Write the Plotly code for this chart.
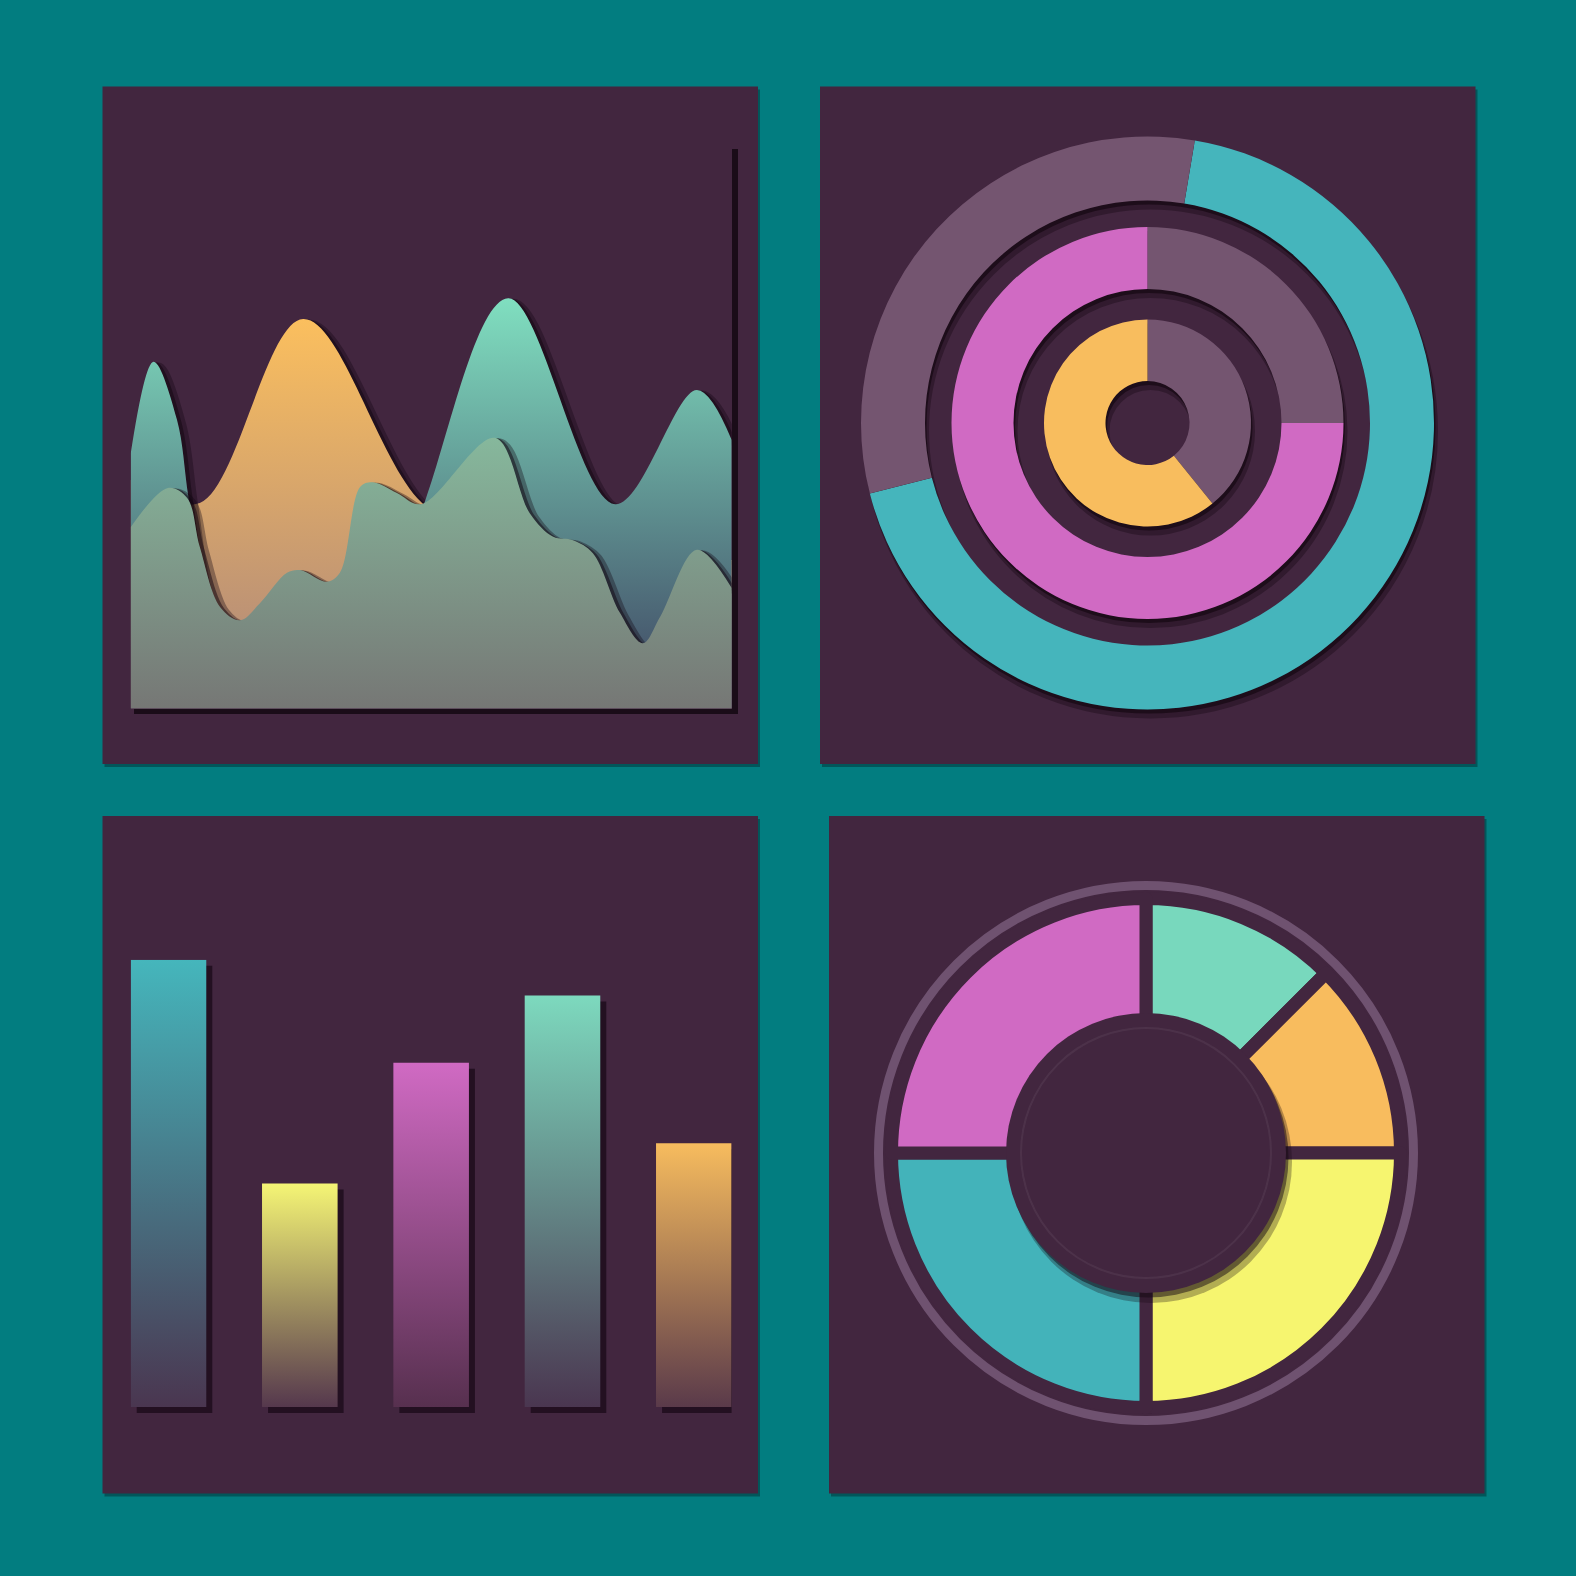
import math
import plotly.graph_objects as go

W = 1576
BG = '#027D80'
PANEL = '#42263F'
MAUVE = '#745570'

# ---- area chart (x: 0-100 across the plot, y: 0-100) ----
orange_x = [0, 11.5, 28.7, 48.4, 64.8, 100]
orange_y = [40.6, 36.5, 69.2, 36.6, 26.4, 26.4]

teal_x = [0, 3.8, 7.7, 9.6, 12.4, 18.2, 39.8, 49.0, 62.8, 80.6, 94.2, 100]
teal_y = [45.3, 61.6, 51.3, 37.6, 19.8, 5.1, 5.1, 36.9, 72.9, 36.3, 56.6, 47.7]

green_x = [0, 6.2, 9.4, 11.5, 14.9, 18.2, 21.5, 26.0, 28.2, 32.6, 34.8, 38.2, 40.3,
           44.3, 48.3, 60.6, 66.4, 70.3, 73.6, 76.9, 81.4, 85.2, 88.1, 94.2, 100]
green_y = [32.2, 39.2, 37.4, 28.7, 18.0, 15.7, 18.7, 24.1, 24.6, 22.5, 24.1, 39.4, 40.2,
           38.3, 36.3, 48.1, 34.7, 30.5, 29.9, 27.6, 17.0, 11.6, 16.3, 28.2, 21.4]

# ---- bar chart ----
bar_values = [100, 50, 77, 92, 59]
bar_top = ['#45B6BC', '#F5F575', '#D06AC3', '#7DD9BE', '#F7BC5E']
bar_bottom = ['#4A3650', '#55384D', '#57304F', '#4A3650', '#5A3A4A']

# ---- nested rings (clockwise from 12 o'clock) ----
ring1_values = [68.4, 31.6]          # teal, mauve
ring1_colors = ['#45B5BC', MAUVE]
ring1_start = 9.5
ring2_values = [25, 75]              # mauve, magenta
ring2_colors = [MAUVE, '#D06AC3']
ring3_values = [39.2, 60.8]          # mauve, orange
ring3_colors = [MAUVE, '#F8BD5E']

# ---- segmented donut ----
pie_labels = ['A', 'B', 'C', 'D', 'E']
pie_values = [12.5, 12.5, 25, 25, 25]
pie_colors = ['#78D8BD', '#F8BC5E', '#F6F56F', '#43B3BA', '#D06AC3']


def px(x):
    return x / W


def py(y):
    return 1 - y / W


def circle_domain(cx, cy, r):
    return dict(x=[px(cx - r), px(cx + r)], y=[py(cy + r), py(cy - r)])


def circle_shape(cx, cy, r, **kw):
    d = dict(type='circle', xref='paper', yref='paper',
             x0=px(cx - r), x1=px(cx + r), y0=py(cy + r), y1=py(cy - r))
    d.update(kw)
    return d


fig = go.Figure()
shapes = []

# panels
panels = [(102.5, 86.4, 758, 764), (820, 86.4, 1475.5, 764),
          (102.5, 816, 758, 1493.6), (829, 816, 1484.5, 1493.6)]
for x0, y0, x1, y1 in panels:
    shapes.append(dict(type='rect', xref='paper', yref='paper', layer='below',
                       x0=px(x0 + 2), x1=px(x1 + 2), y0=py(y1 + 3), y1=py(y0 + 3),
                       fillcolor='rgba(0,40,45,0.45)', line_width=0))
    shapes.append(dict(type='rect', xref='paper', yref='paper', layer='below',
                       x0=px(x0), x1=px(x1), y0=py(y1), y1=py(y0),
                       fillcolor=PANEL, line_width=0))

# ---- area chart ----
area_dom_x = [px(130.7), px(731.7)]
area_dom_y = [py(708.5), py(145.7)]
shapes.append(dict(type='line', xref='paper', yref='paper', layer='below',
                   x0=px(735), x1=px(735), y0=py(149), y1=py(712),
                   line=dict(color='#1A0C18', width=6)))
shapes.append(dict(type='line', xref='paper', yref='paper', layer='below',
                   x0=px(134), x1=px(738), y0=py(711.5), y1=py(711.5),
                   line=dict(color='#1A0C18', width=5)))

area_series = [
    (orange_x, orange_y, [[0, '#AA857C'], [1, '#FBBF5E']], max(orange_y)),
    (teal_x, teal_y, [[0, '#3D4260'], [1, '#80DFC0']], max(teal_y)),
    (green_x, green_y, [[0, '#767775'], [1, '#86B89C']], max(green_y)),
]
for xs, ys, cs, top in area_series:
    fig.add_trace(go.Scatter(
        x=[v + 0.8 for v in xs], y=[v - 0.9 for v in ys], mode='lines',
        line=dict(color='rgba(18,6,16,0.35)', width=9, shape='spline'),
        hoverinfo='skip', showlegend=False, xaxis='x', yaxis='y'))
    fig.add_trace(go.Scatter(
        x=[v + 0.4 for v in xs], y=[v - 0.45 for v in ys], mode='lines',
        line=dict(color='rgba(18,6,16,0.5)', width=4, shape='spline'),
        hoverinfo='skip', showlegend=False, xaxis='x', yaxis='y'))
    fig.add_trace(go.Scatter(
        x=xs, y=ys, mode='lines', fill='tozeroy',
        line=dict(width=0, shape='spline'),
        fillgradient=dict(type='vertical', colorscale=cs, start=0, stop=top),
        hoverinfo='skip', showlegend=False, xaxis='x', yaxis='y'))

# ---- bar chart ----
half_w = 0.2877
for i, v in enumerate(bar_values):
    sx, sy = 6 / 130.9, -6 / 4.472
    fig.add_trace(go.Scatter(
        x=[i - half_w + sx, i + half_w + sx, i + half_w + sx, i - half_w + sx],
        y=[sy, sy, v + sy, v + sy], fill='toself', mode='lines',
        fillcolor='rgba(26,10,24,0.75)', line_width=0,
        hoverinfo='skip', showlegend=False, xaxis='x2', yaxis='y2'))
    fig.add_trace(go.Scatter(
        x=[i - half_w, i + half_w, i + half_w, i - half_w],
        y=[0, 0, v, v], fill='toself', mode='lines', line_width=0,
        fillgradient=dict(type='vertical', start=0, stop=v,
                          colorscale=[[0, bar_bottom[i]], [1, bar_top[i]]]),
        hoverinfo='skip', showlegend=False, xaxis='x2', yaxis='y2'))

# ---- nested rings ----
rcx, rcy = 1147.5, 423
rings = [(286.5, 222.5, ring1_values, ring1_colors, ring1_start),
         (196, 134, ring2_values, ring2_colors, 0),
         (103.5, 42, ring3_values, ring3_colors, 0)]
for r_out, r_in, vals, cols, rot in rings:
    mid, th = (r_out + r_in) / 2, r_out - r_in
    shapes.append(circle_shape(rcx + 3, rcy + 8, mid, layer='below',
                               line=dict(color='rgba(16,5,14,0.35)', width=th + 2)))
    shapes.append(circle_shape(rcx + 1.5, rcy + 4, mid, layer='below',
                               line=dict(color='rgba(16,5,14,0.6)', width=th)))
    fig.add_trace(go.Pie(
        values=vals, marker=dict(colors=cols, line=dict(width=0)),
        hole=r_in / r_out, sort=False, direction='clockwise', rotation=rot,
        textinfo='none', hoverinfo='skip', showlegend=False,
        domain=circle_domain(rcx, rcy, r_out)))

# ---- segmented donut ----
pcx, pcy = 1146, 1153
pie_r = 254.5
shapes.append(circle_shape(pcx, pcy, 267.5, layer='below',
                           line=dict(color='#6F5270', width=9)))
# dark separator stubs between the slices and the outer ring
acc = 0
for v in pie_values:
    a = math.radians(acc / sum(pie_values) * 360)
    shapes.append(dict(type='line', xref='paper', yref='paper', layer='below',
                       x0=px(pcx + 240 * math.sin(a) + 1), x1=px(pcx + 258 * math.sin(a) + 1),
                       y0=py(pcy - 240 * math.cos(a) + 3), y1=py(pcy - 258 * math.cos(a) + 3),
                       line=dict(color='#24111F', width=10)))
    acc += v
fig.add_trace(go.Pie(
    labels=pie_labels, values=pie_values,
    marker=dict(colors=pie_colors, line=dict(color=PANEL, width=13)),
    hole=0.5, sort=False, direction='clockwise', rotation=0,
    textinfo='none', hoverinfo='skip', showlegend=False,
    domain=circle_domain(pcx, pcy, pie_r)))
shapes.append(circle_shape(pcx + 5, pcy + 9, 141, layer='above',
                           fillcolor='rgba(20,7,18,0.3)', line_width=0))
shapes.append(circle_shape(pcx + 2.5, pcy + 4.5, 140, layer='above',
                           fillcolor='rgba(20,7,18,0.5)', line_width=0))
shapes.append(circle_shape(pcx, pcy, 140, layer='above',
                           fillcolor=PANEL, line_width=0))
shapes.append(circle_shape(pcx, pcy, 125, layer='above',
                           fillcolor=PANEL, line=dict(color='rgba(255,255,255,0.06)', width=2)))

fig.update_layout(
    width=W, height=W, margin=dict(l=0, r=0, t=0, b=0),
    paper_bgcolor=BG, plot_bgcolor='rgba(0,0,0,0)',
    shapes=shapes, hovermode=False, showlegend=False,
    xaxis=dict(domain=area_dom_x, range=[0, 100], visible=False, fixedrange=True),
    yaxis=dict(domain=area_dom_y, range=[0, 100], visible=False, fixedrange=True),
    xaxis2=dict(domain=[px(130.7), px(731.6)], range=[-half_w, 4 + half_w],
                visible=False, anchor='y2'),
    yaxis2=dict(domain=[py(1420.4), py(959.8)], range=[-3, 100],
                visible=False, anchor='x2'),
)

# the page body keeps its default 8px margin otherwise
fig.write_html("out.html", config={'displayModeBar': False},
               post_script="document.body.style.margin='0';")
